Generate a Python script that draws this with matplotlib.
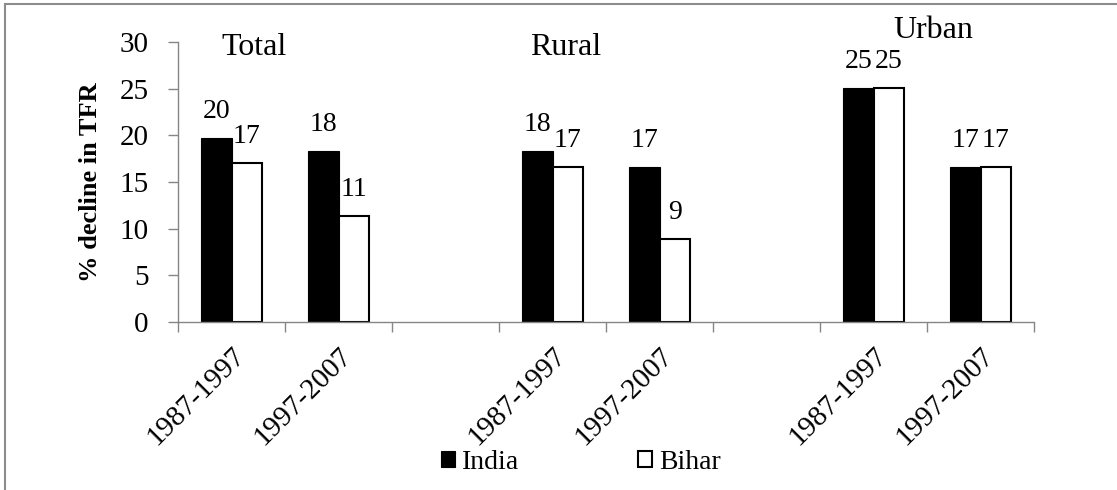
import numpy as np
import matplotlib.pyplot as plt
from matplotlib.patches import Rectangle

plt.rcParams['font.family'] = ['Liberation Serif', 'DejaVu Serif']

periods = ["1987-1997", "1997-2007", "", "1987-1997", "1997-2007", "", "1987-1997", "1997-2007"]
india = [19.7, 18.3, np.nan, 18.3, 16.6, np.nan, 25.1, 16.6]
bihar = [17.0, 11.4, np.nan, 16.6, 8.9, np.nan, 25.1, 16.6]
india_labels = ["20", "18", "", "18", "17", "", "25", "17"]
bihar_labels = ["17", "11", "", "17", "9", "", "25", "17"]
groups = ["Total", "Rural", "Urban"]

fs = 20
grey = "#868686"

fig = plt.figure(figsize=(11.17, 4.9), dpi=100)
ax = fig.add_axes([178 / 1117, 1 - 322 / 490, (1034 - 178) / 1117, (322 - 42) / 490])

x = np.arange(len(periods))
w = 1 / 3.5
b1 = ax.bar(x - w / 2, india, w, color="black", edgecolor="black", linewidth=0.8, label="India")
b2 = ax.bar(x + w / 2, bihar, w, color="white", edgecolor="black", linewidth=1.5, label="Bihar")

for bars, labs in ((b1, india_labels), (b2, bihar_labels)):
    for r, t in zip(bars, labs):
        if t:
            ax.annotate(t, (r.get_x() + r.get_width() / 2, r.get_height()),
                        xytext=(0, 19), textcoords="offset points",
                        ha="center", va="center", fontsize=fs)

# group titles
ax.text(0.21, 29.4, groups[0], ha="center", va="center", fontsize=23)
ax.text(3.12, 29.4, groups[1], ha="center", va="center", fontsize=23)
ax.text(6.56, 31.2, groups[2], ha="center", va="center", fontsize=23, clip_on=False)

ax.set_xlim(-0.5, len(periods) - 0.5)
ax.set_ylim(0, 30)
ax.set_yticks(range(0, 31, 5))
ax.tick_params(axis="y", labelsize=fs + 1, length=7, color=grey, width=1, pad=14)
ax.set_xticks(np.arange(-0.5, len(periods), 1))
ax.set_xticklabels([])
ax.tick_params(axis="x", which="major", length=7, color=grey, width=1)
ax.set_xticks(x, minor=True)
ax.set_xticklabels(periods, minor=True, rotation=45, ha="right", rotation_mode="anchor", fontsize=21)
ax.tick_params(axis="x", which="minor", length=0, pad=15)

for s in ("top", "right"):
    ax.spines[s].set_visible(False)
for s in ("left", "bottom"):
    ax.spines[s].set_color(grey)
    ax.spines[s].set_linewidth(1)

ax.set_ylabel("% decline in TFR", fontsize=19, fontweight="bold", labelpad=13)

fig.legend(handles=[b1, b2], loc="center", bbox_to_anchor=(581 / 1117, 1 - 462 / 490),
           ncol=2, frameon=False, fontsize=fs, handlelength=0.5, handleheight=0.5,
           handletextpad=0.25, columnspacing=4.3)

fig.add_artist(Rectangle((5 / 1117, -0.1), 1.2, 1.1 - 4 / 490, transform=fig.transFigure,
                         fill=False, edgecolor="#8c8c8c", linewidth=1.5))

fig.savefig("out.png", dpi=100)
